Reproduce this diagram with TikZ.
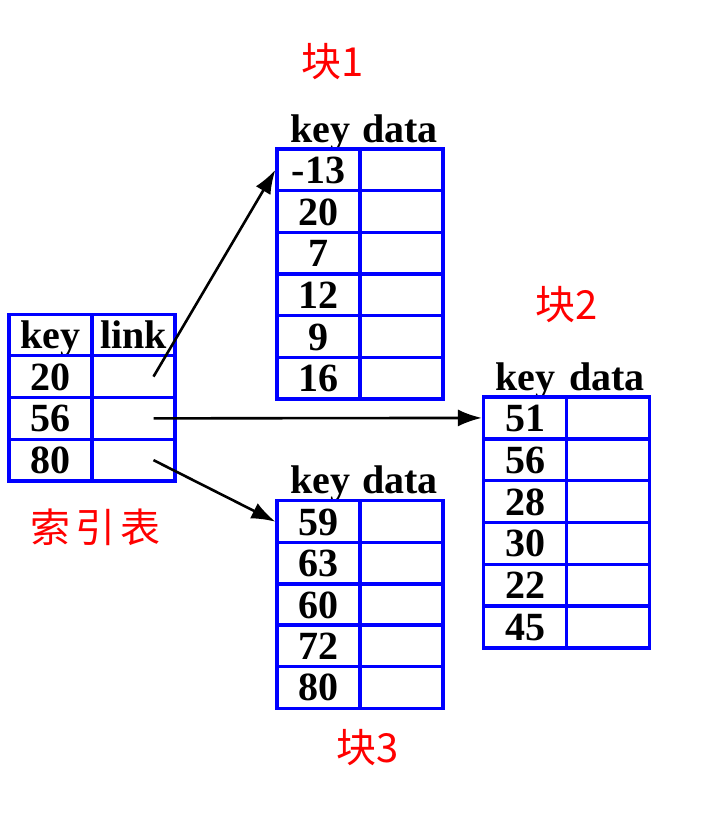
\documentclass[tikz,border=0pt]{standalone}
\usepackage{fontspec}
\setmainfont{Liberation Serif}
\newfontfamily\cjk{Noto Sans CJK SC}
\usetikzlibrary{arrows.meta}
\begin{document}
\begin{tikzpicture}[x=1pt,y=-1pt,
  cell/.style={draw=blue, line width=3.2pt, minimum width=83pt, minimum height=41.7pt,
    inner sep=0pt, text height=27pt, text depth=0pt,
    font=\fontsize{40}{40}\selectfont\bfseries},
  hdr/.style={inner sep=0pt, anchor=base, font=\fontsize{40}{40}\selectfont\bfseries},
  lbl/.style={inner sep=0pt, text=red, font=\cjk\fontsize{40}{40}\selectfont},
  link/.style={line width=2.6pt, -{Latex[length=24pt,width=17pt]}}]
\useasboundingbox (0,0) rectangle (707,819);

% index table
\node[cell] (ihk) at (50.5,335) {key};
\node[cell] (ihl) at (133.5,335) {link};
\foreach \v [count=\i] in {20,56,80} {
  \node[cell] (ik\i) at (50.5,{314+41.75*(\i+0.5)}) {\v};
  \node[cell] (il\i) at (133.5,{314+41.75*(\i+0.5)}) {};
  \coordinate (s\i) at ([xshift=20pt]il\i.center);
}
\node[lbl] (idx) at (95,527) {索\hspace{5pt}引\hspace{5pt}表};

% block 1
\node[hdr] (b1hk) at (320,142) {key};
\node[hdr] (b1hd) at (400,142) {data};
\foreach \v [count=\i] in {-13,20,7,12,9,16} {
  \node[cell] (b1k\i) at (318.5,{149+41.67*(\i-0.5)}) {\v};
  \node[cell] (b1d\i) at (401.5,{149+41.67*(\i-0.5)}) {};
}
\node[lbl] (b1l) at (333,62) {块1};

% block 2
\node[hdr] (b2hk) at (525,390) {key};
\node[hdr] (b2hd) at (607,390) {data};
\foreach \v [count=\i] in {51,56,28,30,22,45} {
  \node[cell] (b2k\i) at (525,{397+41.83*(\i-0.5)}) {\v};
  \node[cell] (b2d\i) at (608,{397+41.83*(\i-0.5)}) {};
}
\node[lbl] (b2l) at (567,305) {块2};

% block 3
\node[hdr] (b3hk) at (320,493) {key};
\node[hdr] (b3hd) at (400,493) {data};
\foreach \v [count=\i] in {59,63,60,72,80} {
  \node[cell] (b3k\i) at (318.5,{501+41.4*(\i-0.5)}) {\v};
  \node[cell] (b3d\i) at (401.5,{501+41.4*(\i-0.5)}) {};
}
\node[lbl] (b3l) at (368,748) {块3};

% arrows
\draw[link] (s1) -- (b1k1.west);
\draw[link] (s2) -- (b2k1.west);
\draw[link] (s3) -- (b3k1.west);
\end{tikzpicture}
\end{document}
